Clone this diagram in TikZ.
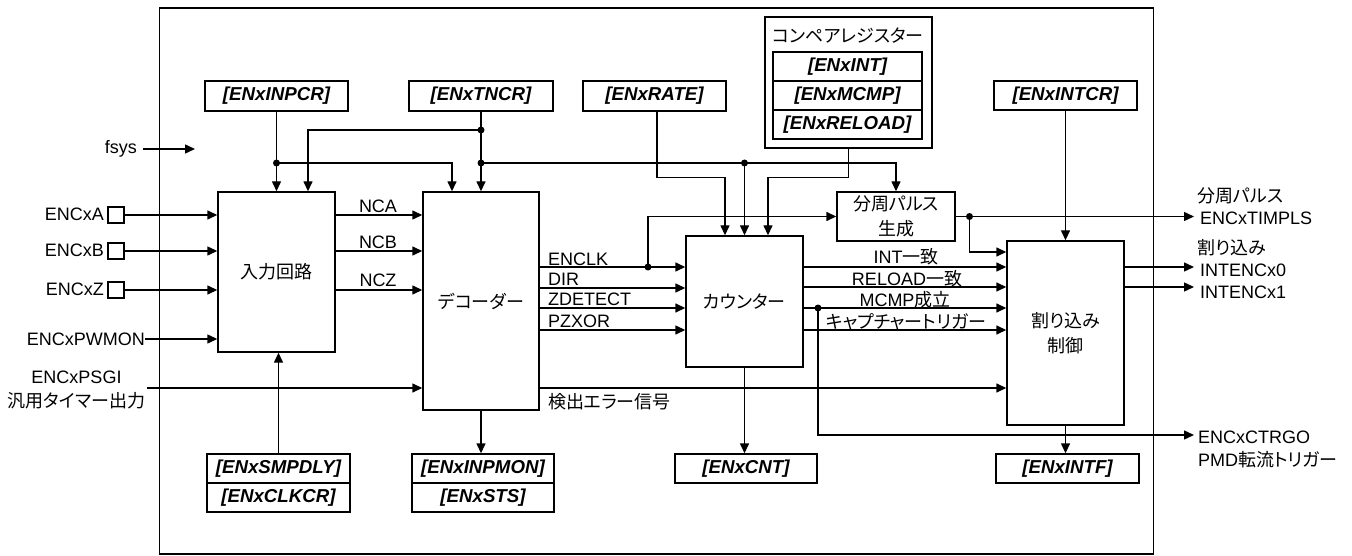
\documentclass[tikz,border=0pt]{standalone}
\usepackage{fontspec}
\setmainfont{Liberation Sans}
\newfontfamily\jp[RawFeature=+palt]{Noto Sans CJK JP}
\usetikzlibrary{arrows.meta}
\begin{document}
\begin{tikzpicture}[x=1pt,y=-1pt,
  font=\fontsize{18}{24}\selectfont,
  box/.style={draw, line width=1.4pt, inner sep=0pt, fill=white, align=center},
  reg/.style={box, font=\fontsize{18.7}{22}\selectfont\bfseries\itshape},
  wire/.style={line width=1.4pt},
  arr/.style={wire, -{Triangle[length=10pt,width=9pt]}},
  dot/.style={circle, fill, inner sep=0pt, minimum size=7pt},
  lbl/.style={inner sep=0pt, align=center},
  sq/.style={draw, line width=1.4pt, minimum size=16pt, inner sep=0pt}]
\useasboundingbox (0,0) rectangle (1352,556);
\draw[line width=1.4pt] (159.5,8) rectangle (1153.5,554);

% top registers
\node[reg, minimum width=143pt, minimum height=30pt] (inpcr) at (276.5,96) {[ENxINPCR]};
\node[reg, minimum width=144pt, minimum height=30pt] (tncr) at (481,96) {[ENxTNCR]};
\node[reg, minimum width=143pt, minimum height=30pt] (rate) at (654.5,96) {[ENxRATE]};
\node[reg, minimum width=143pt, minimum height=29pt] (intcr) at (1065.5,95.5) {[ENxINTCR]};
\node[box, minimum width=167pt, minimum height=131pt] (comp) at (848.5,82.5) {};
\node[lbl] (comptitle) at (848,36) {\jp コンペアレジスター};
\node[reg, minimum width=149pt, minimum height=29pt] (cint) at (847.5,66.5) {[ENxINT]};
\node[reg, minimum width=149pt, minimum height=29pt] (cmcmp) at (847.5,95.5) {[ENxMCMP]};
\node[reg, minimum width=149pt, minimum height=29pt] (creload) at (847.5,124.5) {[ENxRELOAD]};

% main blocks
\node[box, minimum width=117pt, minimum height=160pt] (in) at (276.5,272) {\jp 入力回路};
\node[box, minimum width=116pt, minimum height=218pt] (dec) at (481,301) {\jp デコーダー};
\node[box, minimum width=117pt, minimum height=131pt] (ctr) at (744.5,301.5) {\jp カウンター};
\node[box, minimum width=118pt, minimum height=49pt, font=\fontsize{18}{25}\selectfont] (div) at (896,216.5) {\jp 分周パルス\\\jp 生成};
\node[box, minimum width=117pt, minimum height=184pt, font=\fontsize{18}{25}\selectfont] (irq) at (1065.5,333) {\jp 割り込み\\\jp 制御};

% bottom registers
\node[reg, minimum width=143pt, minimum height=29pt] (smpdly) at (278.5,468.5) {[ENxSMPDLY]};
\node[reg, minimum width=143pt, minimum height=29pt] (clkcr) at (278.5,497.5) {[ENxCLKCR]};
\node[reg, minimum width=142pt, minimum height=29pt] (inpmon) at (483,468.5) {[ENxINPMON]};
\node[reg, minimum width=142pt, minimum height=29pt] (sts) at (483,497.5) {[ENxSTS]};
\node[reg, minimum width=142pt, minimum height=29pt] (cntreg) at (746,468.5) {[ENxCNT]};
\node[reg, minimum width=143pt, minimum height=29pt] (intf) at (1067.5,468.5) {[ENxINTF]};

% top wiring
\draw[arr] (inpcr.south) -- (inpcr.south |- in.north);
\node[dot] (d1) at (inpcr.south |- 0,163) {};
\draw[arr] (d1.center) -| ([xshift=-29pt]dec.north);
\draw[arr] (tncr.south) -- (dec.north);
\node[dot] (d2) at (tncr.south |- 0,130) {};
\node[dot] (d3) at (tncr.south |- 0,163) {};
\draw[arr] (d2.center) -| ([xshift=31.5pt]in.north);
\draw[arr] (d3.center) -| (div.north);
\node[dot] (d4) at (ctr.north |- 0,163) {};
\draw[arr] (d4.center) -- (ctr.north);
\draw[arr] ([xshift=2.5pt]rate.south) -- ++(0,66) -| ([xshift=-19.5pt]ctr.north);
\draw[arr] (comp.south) -- ++(0,29) -| ([xshift=23.5pt]ctr.north);
\draw[arr] (intcr.south) -- (intcr.south |- irq.north);

% left inputs
\node[lbl, anchor=east] (fsys) at (137,149) {fsys};
\coordinate (fsysend) at (195,149);
\draw[arr] ([xshift=6pt]fsys.east) -- (fsysend);
\node[sq] (sqA) at (116,215) {};
\node[sq] (sqB) at (116,251) {};
\node[sq] (sqZ) at (116,290) {};
\node[lbl, anchor=east] (lA) at (104,214) {ENCxA};
\node[lbl, anchor=east] (lB) at (104,250) {ENCxB};
\node[lbl, anchor=east] (lZ) at (104,289) {ENCxZ};
\draw[arr] (sqA.east) -- (sqA.east -| in.west);
\draw[arr] (sqB.east) -- (sqB.east -| in.west);
\draw[arr] (sqZ.east) -- (sqZ.east -| in.west);
\node[lbl, anchor=east] (pwm) at (145,339) {ENCxPWMON};
\draw[arr] (pwm.east) -- (pwm.east -| in.west);
\node[lbl] (psgi) at (76.5,390) {ENCxPSGI\\{\jp 汎用タイマー出力}};
\coordinate (psgiS) at (147,388);
\draw[arr] (psgiS) -- (psgiS -| dec.west);
\draw[arr] (smpdly.north) -- (smpdly.north |- in.south);

% input circuit to decoder
\draw[arr] (in.east |- 0,215) -- (dec.west |- 0,215);
\draw[arr] (in.east |- 0,251) -- (dec.west |- 0,251);
\draw[arr] (in.east |- 0,290) -- (dec.west |- 0,290);
\node[lbl] (lNCA) at (378,206) {NCA};
\node[lbl] (lNCB) at (378,242) {NCB};
\node[lbl] (lNCZ) at (378,280) {NCZ};

% decoder to counter
\draw[arr] (dec.east |- 0,267) -- (ctr.west |- 0,267);
\draw[arr] (dec.east |- 0,288) -- (ctr.west |- 0,288);
\draw[arr] (dec.east |- 0,308) -- (ctr.west |- 0,308);
\draw[arr] (dec.east |- 0,330) -- (ctr.west |- 0,330);
\node[lbl, anchor=west] (lENCLK) at (548,259) {ENCLK};
\node[lbl, anchor=west] (lDIR) at (548,279) {DIR};
\node[lbl, anchor=west] (lZD) at (548,299) {ZDETECT};
\node[lbl, anchor=west] (lPZ) at (548,321) {PZXOR};
\node[dot] (d5) at (648,267) {};
\draw[arr] (d5.center) |- (div.west);
\draw[arr] (dec.south) -- (dec.south |- inpmon.north);
\draw[arr] (dec.east |- 0,388) -- (irq.west |- 0,388);
\node[lbl, anchor=west] (lerr) at (548,402) {\jp 検出エラー信号};

% counter to interrupt control
\draw[arr] (ctr.east |- 0,267) -- (irq.west |- 0,267);
\draw[arr] (ctr.east |- 0,287) -- (irq.west |- 0,287);
\draw[arr] (ctr.east |- 0,308) -- (irq.west |- 0,308);
\draw[arr] (ctr.east |- 0,330) -- (irq.west |- 0,330);
\node[lbl] (lint) at (906,257) {INT{\jp 一致}};
\node[lbl] (lrel) at (907,279) {RELOAD{\jp 一致}};
\node[lbl] (lmcmp) at (905,300) {MCMP{\jp 成立}};
\node[lbl] (lcap) at (906,322) {\jp キャプチャートリガー};
\draw[arr] (ctr.south) -- (ctr.south |- cntreg.north);
\node[dot] (d6) at (818,308) {};
\coordinate (ctrgoE) at (1194,435);
\draw[arr] (d6.center) |- (ctrgoE);

% divider outputs
\coordinate (timplsE) at (1194,216.5);
\draw[arr] (div.east) -- (timplsE);
\node[dot] (d7) at (969.5,216.5) {};
\draw[arr] (d7.center) |- (irq.west |- 0,252);

% interrupt outputs
\coordinate (int0E) at (1194,267);
\coordinate (int1E) at (1194,287);
\draw[arr] (irq.east |- int0E) -- (int0E);
\draw[arr] (irq.east |- int1E) -- (int1E);
\draw[arr] (irq.south) -- (irq.south |- intf.north);

% right labels
\node[lbl, anchor=west] (rdiv) at (1197,196) {\jp 分周パルス};
\node[lbl, anchor=west] (rtim) at (1200,218) {ENCxTIMPLS};
\node[lbl, anchor=west] (rirq) at (1197,248) {\jp 割り込み};
\node[lbl, anchor=west] (rint0) at (1200,270) {INTENCx0};
\node[lbl, anchor=west] (rint1) at (1200,292) {INTENCx1};
\node[lbl, anchor=west] (rgo) at (1198,437) {ENCxCTRGO};
\node[lbl, anchor=west] (rpmd) at (1198,460) {PMD{\jp 転流トリガー}};
\end{tikzpicture}
\end{document}
